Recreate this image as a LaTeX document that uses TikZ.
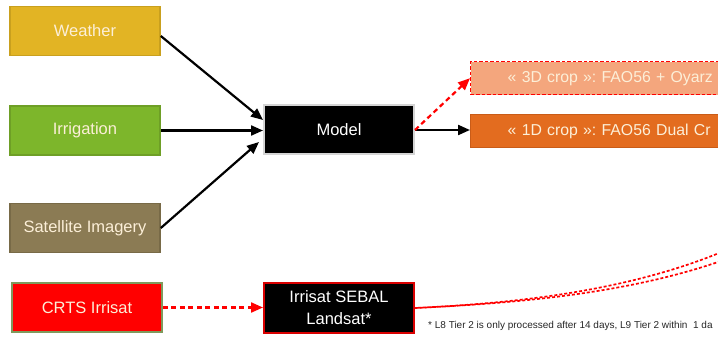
\documentclass[tikz,border=0pt]{standalone}
\usepackage{fontspec}
\setmainfont{Liberation Sans}
\usetikzlibrary{arrows.meta}
\frenchspacing
\definecolor{wgold}{HTML}{E2B424}
\definecolor{wgoldd}{HTML}{C9A01E}
\definecolor{igreen}{HTML}{7DB62B}
\definecolor{igreend}{HTML}{6E9F26}
\definecolor{solive}{HTML}{8B7B54}
\definecolor{solived}{HTML}{786A47}
\definecolor{cred}{HTML}{FF0000}
\definecolor{credd}{HTML}{7F9A5C}
\definecolor{mgrey}{HTML}{D4D4D4}
\definecolor{salmon}{HTML}{F4A67D}
\definecolor{dorange}{HTML}{E36C1F}
\definecolor{dorangd}{HTML}{C95C18}
\definecolor{ltext}{HTML}{FCEFD8}
\tikzset{
  box/.style={draw, line width=1.6pt, minimum width=150pt, minimum height=49pt,
    inner sep=0pt, font=\fontsize{16.5}{21}\selectfont, text=ltext, align=center},
  blackbox/.style={box, fill=black, text=white},
  wide/.style={draw, line width=1.4pt, anchor=north west, inner ysep=0pt,
    inner xsep=37pt, minimum height=33pt, font=\fontsize{15.8}{18}\selectfont,
    text=ltext, align=left, text width=240pt},
  arr/.style={-{Triangle[length=12pt,width=10pt]}, line width=2.2pt},
  rarr/.style={arr, red, dash pattern=on 5pt off 3.5pt},
}
\begin{document}
\begin{tikzpicture}[x=1pt,y=-1pt]
\useasboundingbox (0,0) rectangle (718,339);
\clip (0,0) rectangle (718,339);
\node[box, fill=wgold, draw=wgoldd] (weather) at (85,31) {Weather};
\node[box, fill=igreen, draw=igreend] (irr) at (85,130.5) {Irrigation};
\node[box, fill=solive, draw=solived] (sat) at (85,228) {Satellite Imagery};
\node[box, fill=cred, draw=credd] (crts) at (87,307.5) {CRTS Irrisat};
\node[blackbox, draw=mgrey, line width=2pt] (model) at (339,130) {Model};
\node[blackbox, draw=red!85!black, line width=2pt, font=\fontsize{16.5}{22}\selectfont] (sebal) at (339,308) {Irrisat SEBAL\\Landsat*};
\node[wide, fill=salmon, draw=red, dash pattern=on 3.5pt off 2pt] (crop3) at (470,61)
  {« 3D crop »: FAO56 + Oyarz};
\node[wide, fill=dorange, draw=dorangd] (crop1) at (470,114)
  {« 1D crop »: FAO56 Dual Cr};
\node[anchor=west, inner sep=0pt, font=\fontsize{10}{12}\selectfont, text=black!85] (note) at (428,326)
  {* L8 Tier 2 is only processed after 14 days, L9 Tier 2 within \ 1 da};
\coordinate (t3) at (740,244);
\coordinate (t1) at (740,254);
\draw[arr] (weather.east) ++(0,5) coordinate (w0) -- (263,120);
\draw[arr] (irr.east) -- (model.west |- irr.east);
\draw[arr] (sat.east) -- (259,142);
\draw[arr] (model.east) -- (crop1.west |- model.east);
\draw[rarr] (model.east) -- (crop3.west);
\draw[rarr] (crts.east) -- (sebal.west |- crts.east);
\draw[red, line width=1.7pt, dash pattern=on 3pt off 2pt] (sebal.east) .. controls (520,303) and (640,290) .. (t3);
\draw[red, line width=1.7pt, dash pattern=on 3pt off 2pt, dash phase=2.5pt] (sebal.east) .. controls (520,303) and (640,293) .. (t1);
\end{tikzpicture}
\end{document}
